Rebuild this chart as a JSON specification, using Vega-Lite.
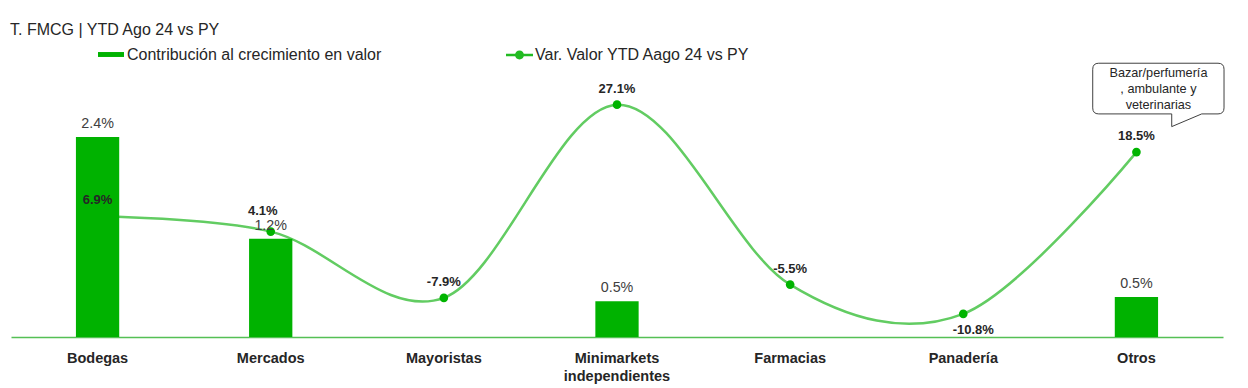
{
  "$schema": "https://vega.github.io/schema/vega-lite/v6.json",
  "width": 1212,
  "height": 250,
  "autosize": {"type": "none"},
  "padding": {"left": 11, "top": 87, "right": 25, "bottom": 51},
  "title": {
    "text": "T. FMCG | YTD Ago 24 vs PY",
    "anchor": "start",
    "frame": "group",
    "fontSize": 16,
    "fontWeight": "normal",
    "color": "#262626",
    "font": "Liberation Sans",
    "offset": 4,
    "dx": -1
  },
  "data": {
    "values": [
      {"cat": "Bodegas", "contrib": 2.4, "barLabel": "2.4%", "var": 6.9, "varLabel": "6.9%"},
      {"cat": "Mercados", "contrib": 1.18, "barLabel": "1.2%", "var": 4.1, "varLabel": "4.1%"},
      {"cat": "Mayoristas", "contrib": null, "barLabel": null, "var": -7.9, "varLabel": "-7.9%"},
      {"cat": "Minimarkets independientes", "contrib": 0.43, "barLabel": "0.5%", "var": 27.1, "varLabel": "27.1%"},
      {"cat": "Farmacias", "contrib": null, "barLabel": null, "var": -5.5, "varLabel": "-5.5%"},
      {"cat": "Panadería", "contrib": null, "barLabel": null, "var": -10.8, "varLabel": "-10.8%"},
      {"cat": "Otros", "contrib": 0.48, "barLabel": "0.5%", "var": 18.5, "varLabel": "18.5%"}
    ]
  },
  "encoding": {
    "x": {
      "field": "cat",
      "type": "nominal",
      "sort": null,
      "scale": {"paddingInner": 0, "paddingOuter": 0},
      "axis": {
        "title": null,
        "domainColor": "#55c055",
        "domainWidth": 1.5,
        "ticks": false,
        "tickSize": 0,
        "labelPadding": 14,
        "labelFontSize": 14.5,
        "labelFontWeight": "bold",
        "labelColor": "#262626",
        "labelFont": "Liberation Sans",
        "labelAngle": 0,
        "labelLineHeight": 18.4,
        "labelExpr": "split(datum.value, ' ')",
        "grid": false
      }
    }
  },
  "layer": [
    {
      "mark": {"type": "line", "interpolate": "cardinal", "strokeWidth": 2.5},
      "encoding": {
        "y": {"field": "var", "type": "quantitative", "scale": {"domain": [-15, 30.3], "nice": false, "zero": false}, "axis": null},
        "stroke": {
          "datum": "Var. Valor YTD Aago 24 vs PY",
          "type": "nominal",
          "scale": {"range": ["#62cc62"]},
          "legend": {
            "orient": "none",
            "legendX": 495,
            "legendY": -45.5,
            "title": null,
            "padding": 0,
            "symbolType": "M-1,-0.09L1,-0.09L1,0.09L-1,0.09Z M0.33,0 A0.33,0.33 0 1,1 -0.33,0 A0.33,0.33 0 1,1 0.33,0 Z",
            "symbolSize": 729,
            "symbolFillColor": "#22bb22",
            "symbolStrokeWidth": 0,
            "labelOffset": 2,
            "labelLimit": 1000,
            "labelFontSize": 16,
            "labelColor": "#262626",
            "labelFont": "Liberation Sans",
            "encode": {"symbols": {"update": {"fill": {"value": "#22bb22"}, "strokeWidth": {"value": 0}, "opacity": {"value": 1}}}}
          }
        }
      }
    },
    {
      "mark": {"type": "point", "filled": true, "size": 75, "color": "#00b400", "opacity": 1},
      "encoding": {
        "y": {"field": "var", "type": "quantitative", "scale": {"domain": [-15, 30.3], "nice": false, "zero": false}, "axis": null}
      }
    },
    {
      "mark": {"type": "bar", "width": {"band": 0.25}},
      "encoding": {
        "y": {"field": "contrib", "type": "quantitative", "scale": {"domain": [0, 3], "nice": false}, "axis": null},
        "color": {
          "datum": "Contribución al crecimiento en valor",
          "type": "nominal",
          "scale": {"range": ["#00b200"]},
          "legend": {
            "orient": "none",
            "legendX": 87,
            "legendY": -45.5,
            "title": null,
            "padding": 0,
            "symbolType": "M-1,-0.19L1,-0.19L1,0.19L-1,0.19Z",
            "symbolSize": 676,
            "symbolStrokeWidth": 0,
            "labelOffset": 3,
            "labelLimit": 1000,
            "labelFontSize": 16,
            "labelColor": "#262626",
            "labelFont": "Liberation Sans"
          }
        }
      }
    },
    {
      "mark": {"type": "text", "baseline": "middle", "dy": -13, "fontSize": 14.3, "color": "#404040", "font": "Liberation Sans"},
      "encoding": {
        "y": {"field": "contrib", "type": "quantitative", "scale": {"domain": [0, 3], "nice": false}, "axis": null},
        "text": {"field": "barLabel"}
      }
    },
    {
      "transform": [{"filter": "datum.cat != 'Panadería' && datum.cat != 'Mercados'"}],
      "mark": {"type": "text", "baseline": "middle", "dy": -16, "fontSize": 13, "fontWeight": "bold", "color": "#262626", "font": "Liberation Sans"},
      "encoding": {
        "y": {"field": "var", "type": "quantitative", "scale": {"domain": [-15, 30.3], "nice": false, "zero": false}, "axis": null},
        "text": {"field": "varLabel"}
      }
    },
    {
      "transform": [{"filter": "datum.cat == 'Mercados'"}],
      "mark": {"type": "text", "baseline": "middle", "dy": -21, "dx": -8, "fontSize": 13, "fontWeight": "bold", "color": "#262626", "font": "Liberation Sans"},
      "encoding": {
        "y": {"field": "var", "type": "quantitative", "scale": {"domain": [-15, 30.3], "nice": false, "zero": false}, "axis": null},
        "text": {"field": "varLabel"}
      }
    },
    {
      "transform": [{"filter": "datum.cat == 'Panadería'"}],
      "mark": {"type": "text", "baseline": "middle", "dy": 16, "dx": 10, "fontSize": 13, "fontWeight": "bold", "color": "#262626", "font": "Liberation Sans"},
      "encoding": {
        "y": {"field": "var", "type": "quantitative", "scale": {"domain": [-15, 30.3], "nice": false, "zero": false}, "axis": null},
        "text": {"field": "varLabel"}
      }
    },
    {
      "transform": [{"filter": "datum.cat == 'Otros'"}],
      "mark": {
        "type": "point",
        "shape": "M-37.7,-88.9L81.6,-88.9Q87.6,-88.9 87.6,-82.9L87.6,-44.2Q87.6,-38.2 81.6,-38.2L65.3,-38.2L35.3,-25.5L35.3,-38.2L-37.7,-38.2Q-43.7,-38.2 -43.7,-44.2L-43.7,-82.9Q-43.7,-88.9 -37.7,-88.9Z",
        "size": 4,
        "filled": true,
        "fill": "#ffffff",
        "stroke": "#404040",
        "strokeWidth": 1,
        "opacity": 1
      },
      "encoding": {
        "y": {"field": "var", "type": "quantitative", "scale": {"domain": [-15, 30.3], "nice": false, "zero": false}, "axis": null}
      }
    },
    {
      "transform": [{"filter": "datum.cat == 'Otros'"}],
      "mark": {
        "type": "text",
        "text": ["Bazar/perfumería", ", ambulante y", "veterinarias"],
        "baseline": "middle",
        "align": "center",
        "dx": 22,
        "dy": -79,
        "lineHeight": 15.8,
        "fontSize": 12.7,
        "color": "#262626",
        "font": "Liberation Sans"
      },
      "encoding": {
        "y": {"field": "var", "type": "quantitative", "scale": {"domain": [-15, 30.3], "nice": false, "zero": false}, "axis": null}
      }
    }
  ],
  "resolve": {"scale": {"y": "independent"}},
  "config": {
    "font": "Liberation Sans",
    "view": {"stroke": null},
    "background": "#ffffff"
  }
}
